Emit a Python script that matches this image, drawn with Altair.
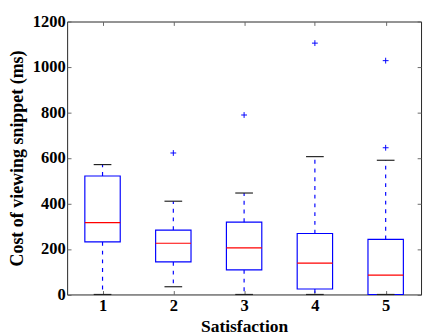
import altair as alt
import pandas as pd

categories = [1, 2, 3, 4, 5]
q1 = [231, 143, 108, 24, 0]
median = [316, 225, 205, 138, 85]
q3 = [521, 283, 318, 268, 242]
whisker_low = [0, 34, 0, 0, 0]
whisker_high = [571, 410, 446, 606, 590]
flier_cat = [2, 3, 4, 5, 5]
flier_val = [622, 789, 1105, 1028, 645]

y_ticks = [0, 200, 400, 600, 800, 1000, 1200]

boxes = pd.DataFrame({"pos": categories, "q1": q1, "med": median, "q3": q3,
                      "lo": whisker_low, "hi": whisker_high})
fliers = pd.DataFrame({"pos": flier_cat, "val": flier_val})

FONT = "Liberation Serif"
xs = alt.Scale(domain=[0.5, 5.5], nice=False, zero=False)
ys = alt.Scale(domain=[0, 1200], nice=False)

base = alt.Chart(boxes).transform_calculate(
    bl="datum.pos - 0.25", br="datum.pos + 0.25",
    cl="datum.pos - 0.125", cr="datum.pos + 0.125")

main_x = alt.Axis(values=categories, format="d", ticks=False, domain=False, grid=False,
                  labelFont=FONT, labelFontSize=17, labelFontWeight="bold", labelColor="black",
                  labelPadding=4, title="Satisfaction", titleFont=FONT, titleFontSize=18,
                  titleFontWeight="bold", titleColor="black", titleX=182.5, titleY=38,
                  titleBaseline="alphabetic")
main_y = alt.Axis(values=y_ticks, format="d", ticks=False, domain=False, grid=False,
                  labelFont=FONT, labelFontSize=17, labelFontWeight="bold", labelColor="black",
                  labelPadding=2, title="Cost of viewing snippet (ms)", titleFont=FONT,
                  titleFontSize=18.5, titleFontWeight="bold", titleColor="black",
                  titleX=-52, titleY=140.75, titleAngle=-90, titleBaseline="middle",
                  titleAlign="center")

def tick_axis(orient, values):
    return alt.Axis(orient=orient, values=values, labels=False, domain=False, grid=False,
                    ticks=True, tickSize=4, tickColor="#666", tickWidth=1, offset=-4, title=None)

box = base.mark_rect(fill=None, stroke="#0000ff", strokeWidth=1.2).encode(
    x=alt.X("bl:Q", scale=xs, axis=main_x), x2="br:Q",
    y=alt.Y("q1:Q", scale=ys, axis=main_y), y2="q3:Q")

whisk_up = base.mark_rule(color="#0000ff", strokeWidth=1.2, strokeDash=[4, 5]).encode(
    x=alt.X("pos:Q", scale=xs, axis=tick_axis("top", categories)),
    y=alt.Y("q3:Q", scale=ys, axis=tick_axis("right", y_ticks)), y2="hi:Q")

whisk_dn = base.mark_rule(color="#0000ff", strokeWidth=1.2, strokeDash=[4, 5]).encode(
    x=alt.X("pos:Q", scale=xs, axis=tick_axis("bottom", categories)),
    y=alt.Y("q1:Q", scale=ys, axis=tick_axis("left", y_ticks)), y2="lo:Q")

caps_hi = base.mark_rule(color="#222222", strokeWidth=1.2).encode(
    x=alt.X("cl:Q", scale=xs, axis=None), x2="cr:Q",
    y=alt.Y("hi:Q", scale=ys, axis=None))
caps_lo = base.mark_rule(color="#222222", strokeWidth=1.2).encode(
    x=alt.X("cl:Q", scale=xs, axis=None), x2="cr:Q",
    y=alt.Y("lo:Q", scale=ys, axis=None))

med = base.mark_rule(color="#ff0000", strokeWidth=1.2).encode(
    x=alt.X("bl:Q", scale=xs, axis=None), x2="br:Q",
    y=alt.Y("med:Q", scale=ys, axis=None))

fl = alt.Chart(fliers).mark_point(shape="M-1,0L1,0M0,-1L0,1", filled=False,
                                  color="#0000ff", size=36, strokeWidth=1, opacity=1).encode(
    x=alt.X("pos:Q", scale=xs, axis=None),
    y=alt.Y("val:Q", scale=ys, axis=None))

chart = alt.layer(box, whisk_up, whisk_dn, caps_lo, caps_hi, med, fl).resolve_axis(
    x="independent", y="independent"
).properties(
    width=365, height=281.5,
    autosize=alt.AutoSizeParams(type="none"),
    padding={"left": 61, "top": 8.7, "right": 2, "bottom": 45},
    background="white"
).configure_view(stroke="#222222", strokeWidth=1)

chart.save("out.html", embed_options={"renderer": "svg", "actions": False})
